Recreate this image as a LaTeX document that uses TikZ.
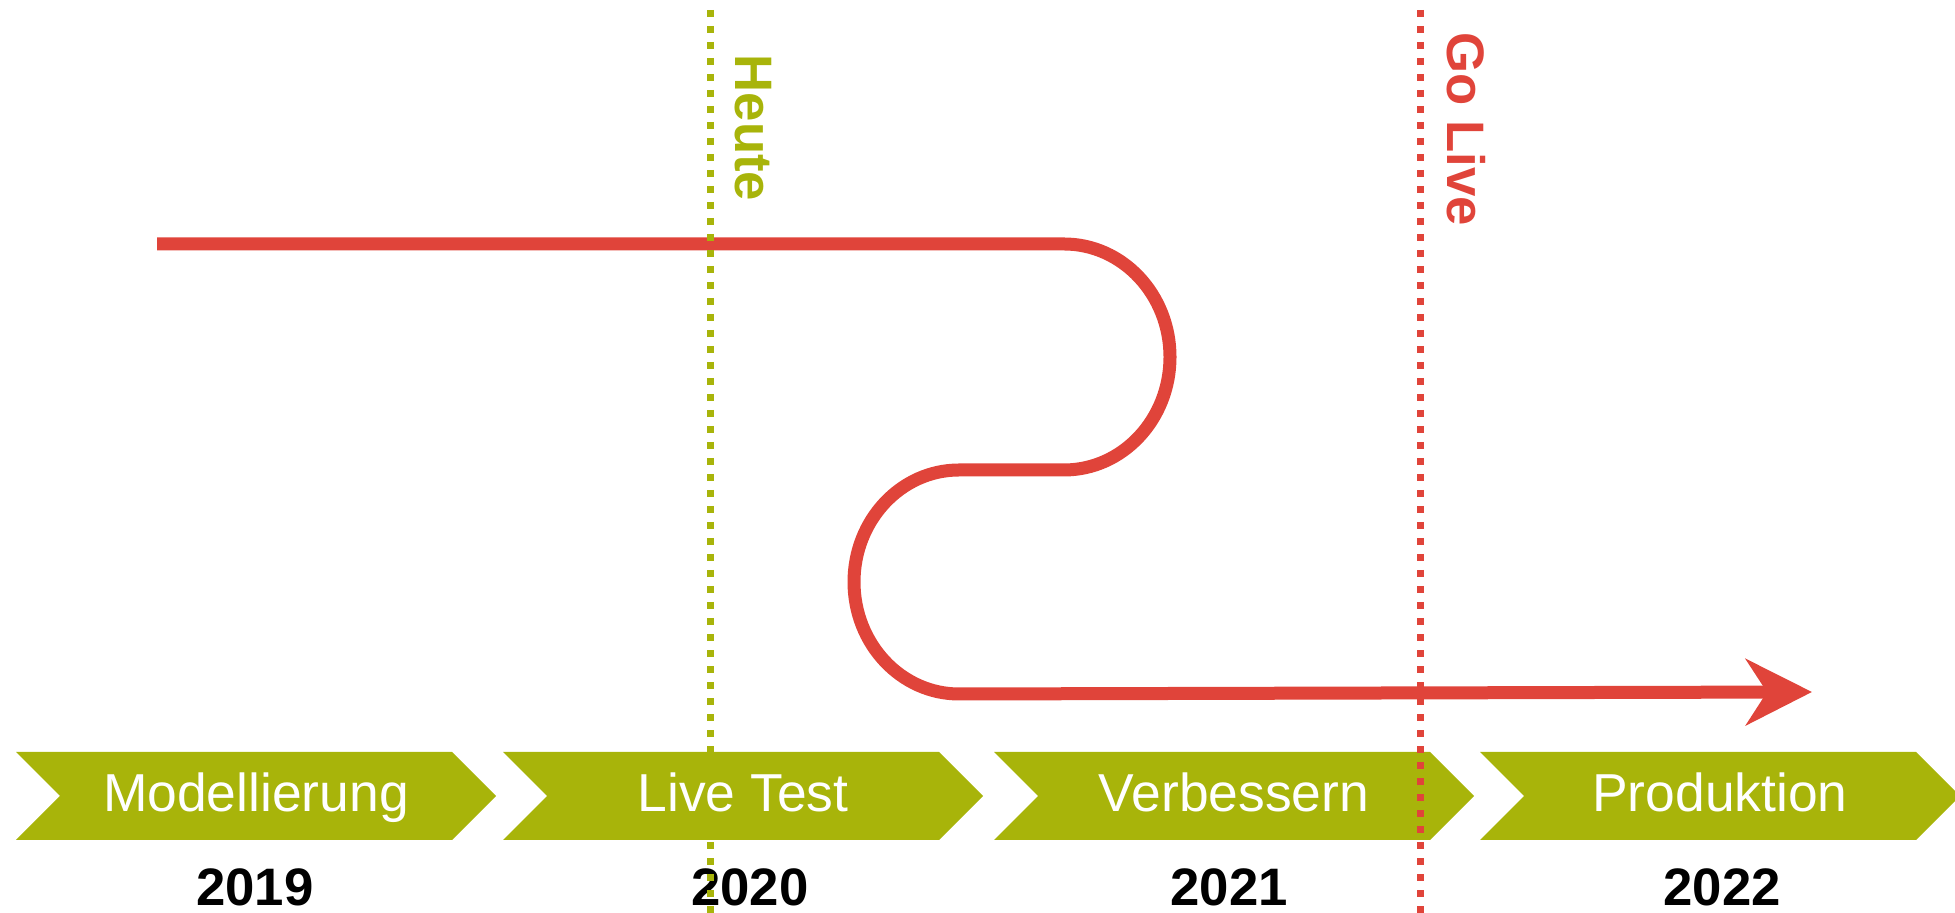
\documentclass[tikz,border=0pt]{standalone}
\usepackage{fontspec}
\setmainfont{Liberation Sans}
\usetikzlibrary{arrows.meta}
\definecolor{phasegreen}{RGB}{168,180,10}
\definecolor{pathred}{RGB}{224,68,58}

\begin{document}
\begin{tikzpicture}[
		phase/.style={fill=phasegreen},
		phaselabel/.style={anchor=base, text=white, font=\fontsize{15.2}{17}\selectfont},
		yearlabel/.style={anchor=base, font=\fontsize{15}{17}\selectfont\bfseries},
		milestone/.style={line width=0.07cm, dash pattern=on 0.07cm off 0.09cm},
		milestonelabel/.style={rotate=-90, font=\fontsize{15}{17}\selectfont\bfseries},
		roadmap/.style={pathred, line width=0.13cm, -{Stealth[length=0.66cm, width=0.66cm, inset=0.21cm]}}]
		\clip (0,0) rectangle (19.55,9.13);
		\foreach \x/\yr/\dx in {0.16/2019/2.39, 5.03/2020/2.47, 9.94/2021/2.35, 14.80/2022/2.42}{
			\fill[phase] (\x,1.61) -- ++(4.36,0) -- ++(0.44,-0.44) -- ++(-0.44,-0.44) -- ++(-4.36,0) -- ++(0.44,0.44) -- cycle;
			\node[yearlabel] (year\yr) at (\x+\dx,0.07) {\yr};
		}
		\coordinate (start) at (1.57,6.69);
		\coordinate (goal) at (18.12,2.21);
		\draw[roadmap] (start) -- ++(9.07,0) arc[start angle=90, end angle=-90, x radius=1.06, y radius=1.13]
			-- ++(-1.05,0) arc[start angle=90, end angle=270, x radius=1.05, y radius=1.12] -- (goal);
		\node[milestonelabel, text=phasegreen] (heute) at (7.53,7.85) {Heute};
		\node[milestonelabel, text=pathred] (golive) at (14.66,7.84) {Go Live};
		\coordinate (heutetop) at (7.10,9.03);
		\coordinate (golivetop) at (14.20,9.03);
		\draw[milestone, phasegreen] (heutetop) -- (heutetop |- 0,0);
		\draw[milestone, pathred] (golivetop) -- (golivetop |- 0,0);
		\foreach \x/\yr/\txt in {0.16/2019/Modellierung, 5.03/2020/Live Test, 9.94/2021/Verbessern, 14.80/2022/Produktion}
			\node[phaselabel] (phase\yr) at (\x+2.4,1.01) {\txt};
	\end{tikzpicture}
\end{document}
